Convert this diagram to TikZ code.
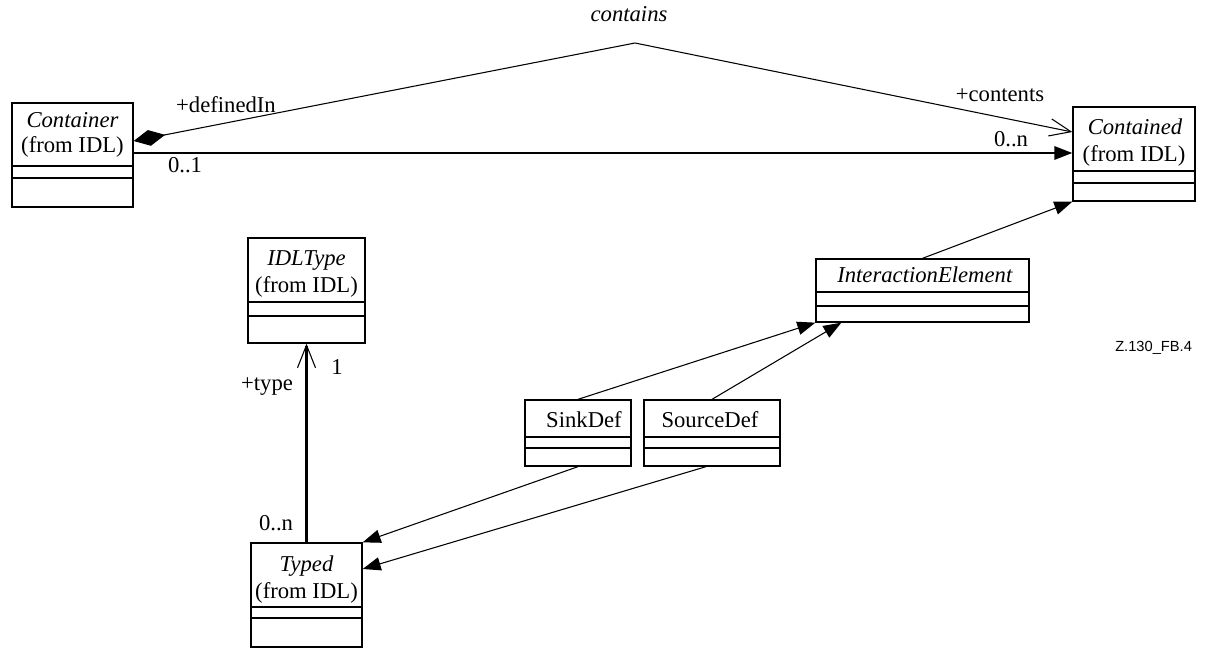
\documentclass[tikz,border=0pt]{standalone}
\usepackage{fontspec}
\setmainfont{Liberation Serif}
\newfontfamily\figsans{Liberation Sans}
\usetikzlibrary{arrows.meta,fit,calc}

% class box with two empty compartments: name, left, top, right, bottom, divider 1, divider 2
\newcommand\umlclass[7]{%
  \node[classbox, fit={(#2,#3) (#4,#5)}] (#1) {};
  \draw[divider] (#1.west |- 0,#6) -- (#1.east |- 0,#6);
  \draw[divider] (#1.west |- 0,#7) -- (#1.east |- 0,#7);
}

\begin{document}
\begin{tikzpicture}[x=0.75pt,y=-0.75pt,
  font=\fontsize{17}{20}\selectfont,
  classbox/.style={draw, line width=1pt, inner sep=0pt},
  divider/.style={line width=1pt},
  txt/.style={anchor=base, inner sep=0pt},
  thinline/.style={line width=0.8pt},
  thickline/.style={line width=1.6pt},
  gen/.style={thinline, -{Triangle[length=13.5pt, width=10pt]}},
  nav/.style={-{Triangle[length=13.5pt, width=10pt]}},
  open/.style={-{Straight Barb[length=17pt, width=13.5pt, line width=0.8pt]}},
  comp/.style={{Diamond[length=24pt, width=12pt]}-{Straight Barb[length=16pt, width=13pt, line width=0.8pt]}}
]
\useasboundingbox (0,0) rectangle (1206,648);

% classes
\umlclass{container}{12}{103}{133}{207}{166}{178}
\node[txt] (containerName) at (72.5,128) {\textit{Container}};
\node[txt] (containerFrom) at (72.5,153) {(from IDL)};

\umlclass{contained}{1073}{107}{1195}{201}{171}{183}
\node[txt] (containedName) at (1135,135) {\textit{Contained}};
\node[txt] (containedFrom) at (1134,162) {(from IDL)};

\umlclass{idltype}{248}{238}{365}{343}{302}{316}
\node[txt] (idltypeName) at (306.5,266) {\textit{IDLType}};
\node[txt] (idltypeFrom) at (306.5,293) {(from IDL)};

\umlclass{typed}{251}{543}{362}{647}{607}{618}
\node[txt] (typedName) at (306.5,571) {\textit{Typed}};
\node[txt] (typedFrom) at (306.5,598) {(from IDL)};

\umlclass{ie}{816}{259}{1029}{322}{292}{306}
\node[txt] (ieName) at (925,283) {\textit{InteractionElement}};

\umlclass{sinkdef}{525}{400}{631}{466}{437}{448}
\node[txt] (sinkName) at (584,427) {SinkDef};

\umlclass{sourcedef}{644}{400}{780}{466}{437}{448}
\node[txt] (sourceName) at (710,427) {SourceDef};

% associations
\coordinate (peak) at (635,43);
\draw[thinline, comp] (container.east |- 0,141) -- (peak) -- (contained.west |- 0,132);
\node[txt] (containsLbl) at (629,22) {\textit{contains}};
\node[txt] (definedInLbl) at (226,113) {+definedIn};
\node[txt] (contentsLbl) at (1000,102) {+contents};

\draw[thickline, nav] (container.east |- 0,153) -- (contained.west |- 0,153);
\node[txt] (multA) at (185,173) {0..1};
\node[txt] (multB) at (1011,147) {0..n};

\draw[thickline, open] (typed.north) -- (idltype.south);
\node[txt] (typeLbl) at (267,390) {+type};
\node[txt] (multC) at (337,375) {1};
\node[txt] (multD) at (276,530) {0..n};

% generalizations and dependencies
\draw[gen] (ie.north) -- (contained.south west);
\draw[gen] (sinkdef.north) -- (ie.south west);
\draw[gen] (sourcedef.north) -- ($(ie.south west)+(26,0)$);
\draw[gen] (sinkdef.south) -- (typed.north east);
\draw[gen] ($(sourcedef.south)+(-6,0)$) -- (typed.east |- 0,569);

% figure reference
\node[anchor=base west, inner sep=0pt, font=\figsans\fontsize{11}{13}\selectfont] (figref) at (1115,352) {Z.130\_FB.4};
\end{tikzpicture}
\end{document}
